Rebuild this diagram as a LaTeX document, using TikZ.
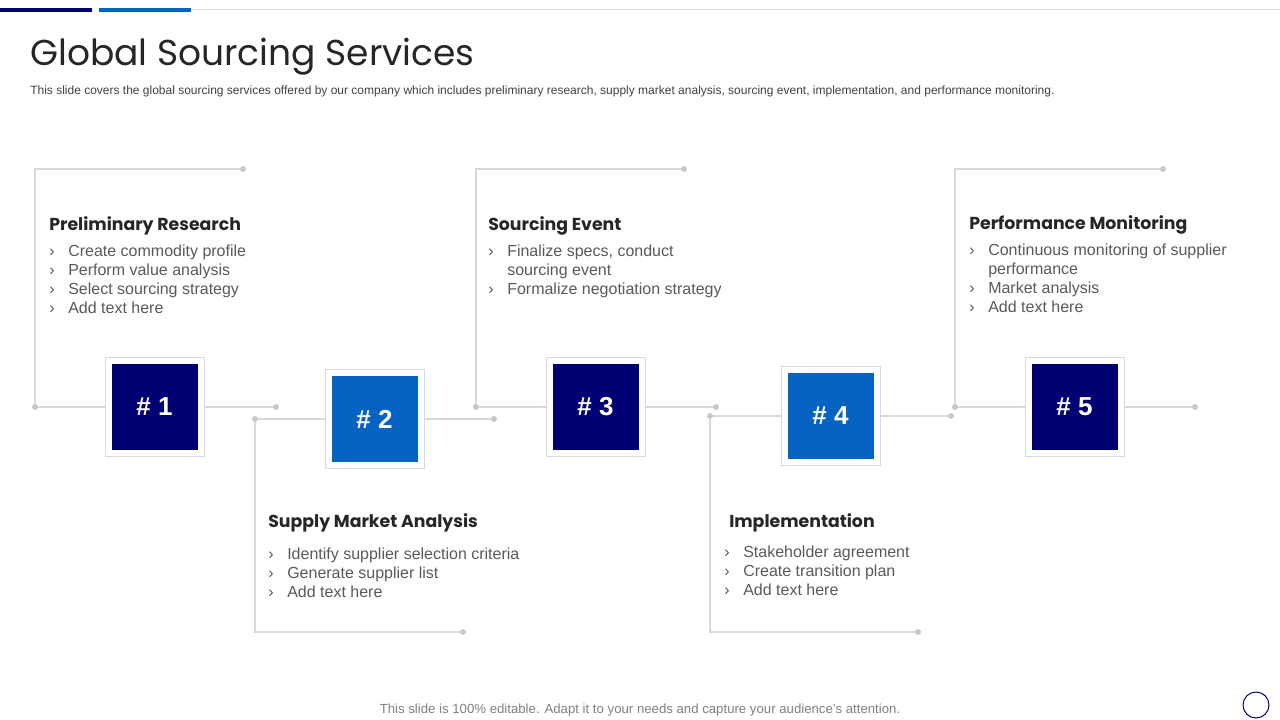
\documentclass[tikz,border=0pt]{standalone}
\usepackage{fontspec}
\setmainfont{Liberation Sans}
\newfontfamily\headfont{Poppins}
\definecolor{navy}{HTML}{000072}
\definecolor{midblue}{HTML}{0563C1}
\definecolor{rulegray}{HTML}{D9D9D9}
\definecolor{dotgray}{HTML}{C8C8C8}
\definecolor{ink}{HTML}{262626}
\definecolor{bodygray}{HTML}{595959}
\newcommand{\bul}{\makebox[14.25pt][l]{›}}
\newcommand{\bulgap}{\hspace*{14.25pt}}

\begin{document}
\begin{tikzpicture}[x=0.75pt, y=-0.75pt,
    frame/.style={draw=rulegray, fill=white, line width=0.75pt, minimum size=74.25pt, inner sep=0pt},
    numbox/.style={minimum size=64.5pt, inner sep=0pt, text=white, font=\fontsize{19.5}{20}\selectfont\bfseries},
    dot/.style={circle, fill=dotgray, minimum size=4.5pt, inner sep=0pt},
    link/.style={draw=rulegray, line width=0.9pt},
    heading/.style={anchor=base west, inner sep=0pt, text=ink, font=\headfont\bfseries\fontsize{13}{16}\selectfont},
    points/.style={anchor=north west, inner sep=0pt, align=left, text=bodygray, font=\fontsize{12}{14.25}\selectfont}]

    \useasboundingbox (0,0) rectangle (1280,720);

    % Draw top bars and title
    \fill[navy] (0,8) rectangle (92,12);
    \fill[midblue] (99,8) rectangle (191,12);
    \draw[rulegray, line width=0.75pt] (191,10) -- (1280,10);
    \node[anchor=base west, inner sep=0pt, text=ink, font=\headfont\fontsize{27}{30}\selectfont] (title) at (30,66) {Global Sourcing Services};
    \node[anchor=base west, inner sep=0pt, text=black!75, font=\fontsize{9}{11}\selectfont] (sub) at (30,95) {This slide covers the global sourcing services offered by our company which includes preliminary research, supply market analysis, sourcing event, implementation, and performance monitoring.};

    % Draw number boxes
    \node[frame] (f1) at (154.5,407) {};
    \node[numbox, fill=navy] (n1) at (f1) {\# 1};
    \node[frame] (f2) at (374.5,419) {};
    \node[numbox, fill=midblue] (n2) at (f2) {\# 2};
    \node[frame] (f3) at (595.5,407) {};
    \node[numbox, fill=navy] (n3) at (f3) {\# 3};
    \node[frame] (f4) at (830.5,416) {};
    \node[numbox, fill=midblue] (n4) at (f4) {\# 4};
    \node[frame] (f5) at (1074.5,407) {};
    \node[numbox, fill=navy] (n5) at (f5) {\# 5};

    % Draw dots
    \node[dot] (t1) at (243,169) {};
    \node[dot] (l1) at (35,407) {};
    \node[dot] (r1) at (276,407) {};
    \node[dot] (l2) at (255,419) {};
    \node[dot] (b2) at (463,632) {};
    \node[dot] (r2) at (494,419) {};
    \node[dot] (t3) at (684,169) {};
    \node[dot] (l3) at (476,407) {};
    \node[dot] (r3) at (716,407) {};
    \node[dot] (l4) at (710,416) {};
    \node[dot] (b4) at (918,632) {};
    \node[dot] (r4) at (951,416) {};
    \node[dot] (t5) at (1163,169) {};
    \node[dot] (l5) at (955,407) {};
    \node[dot] (r5) at (1195,407) {};

    % Draw edges
    \draw[link] (t1) -| (l1);
    \draw[link] (l1) -- (f1);
    \draw[link] (f1) -- (r1);
    \draw[link] (l2) |- (b2);
    \draw[link] (l2) -- (f2);
    \draw[link] (f2) -- (r2);
    \draw[link] (t3) -| (l3);
    \draw[link] (l3) -- (f3);
    \draw[link] (f3) -- (r3);
    \draw[link] (l4) |- (b4);
    \draw[link] (l4) -- (f4);
    \draw[link] (f4) -- (r4);
    \draw[link] (t5) -| (l5);
    \draw[link] (l5) -- (f5);
    \draw[link] (f5) -- (r5);

    % Draw texts
    \node[heading] (h1) at (49,230) {Preliminary Research};
    \node[points] (p1) at (49,245) {\bul Create commodity profile\\ \bul Perform value analysis\\ \bul Select sourcing strategy\\ \bul Add text here};
    \node[heading] (h2) at (268,527) {Supply Market Analysis};
    \node[points] (p2) at (268,548) {\bul Identify supplier selection criteria\\ \bul Generate supplier list\\ \bul Add text here};
    \node[heading] (h3) at (488,230) {Sourcing Event};
    \node[points] (p3) at (488,245) {\bul Finalize specs, conduct\\ \bulgap sourcing event\\ \bul Formalize negotiation strategy};
    \node[heading] (h4) at (729,527) {Implementation};
    \node[points] (p4) at (724,546) {\bul Stakeholder agreement\\ \bul Create transition plan\\ \bul Add text here};
    \node[heading] (h5) at (969,229) {Performance Monitoring};
    \node[points] (p5) at (969,244) {\bul Continuous monitoring of supplier\\ \bulgap performance\\ \bul Market analysis\\ \bul Add text here};

    % Draw footer
    \node[text=black!50, font=\fontsize{9.9}{12}\selectfont] (foot) at (640,710) {This slide is 100\% editable. Adapt it to your needs and capture your audience's attention.};
    \draw[navy, line width=0.75pt] (1256,705) circle[radius=13];
\end{tikzpicture}
\end{document}
